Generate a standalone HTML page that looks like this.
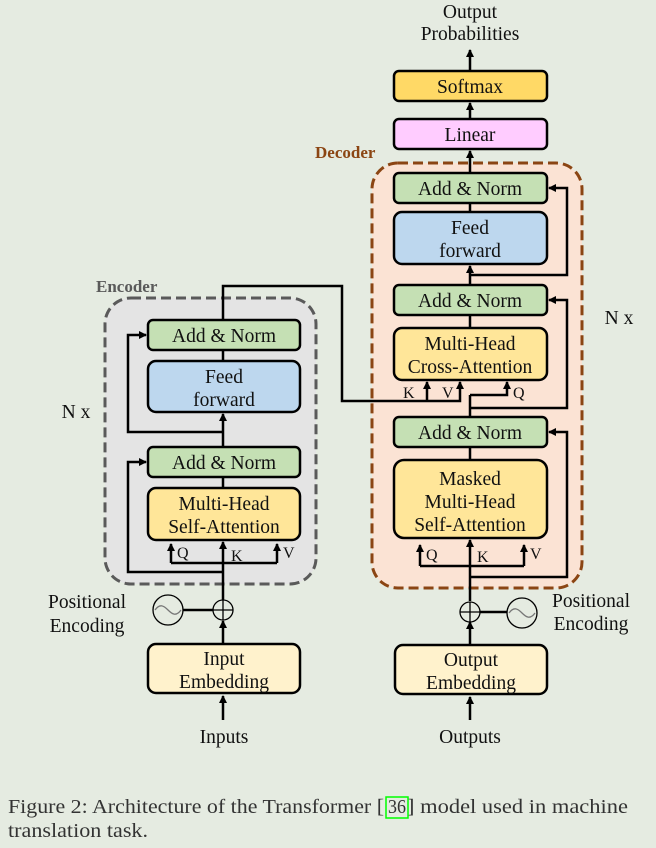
<!DOCTYPE html>
<html><head><style>
html,body{margin:0;padding:0;background:#e5ebe1;}
svg{display:block;font-family:"Liberation Serif",serif;}
</style></head><body>
<svg width="656" height="848" viewBox="0 0 656 848" xmlns="http://www.w3.org/2000/svg">
<defs>
<marker id="a" markerWidth="8" markerHeight="8" refX="7" refY="4" orient="auto" markerUnits="userSpaceOnUse">
<path d="M0,0 L8,4 L0,8 z" fill="#000"/></marker>
</defs>
<rect width="656" height="848" fill="#e5ebe1"/>
<rect x="105" y="298" width="211" height="286" rx="26" fill="#e4e4e4" stroke="#5a5a5a" stroke-width="3" stroke-dasharray="10,5"/>
<text x="96" y="292" font-size="17" font-weight="bold" fill="#5a5a5a">Encoder</text>
<rect x="372" y="163" width="210" height="425" rx="26" fill="#fbe3d4" stroke="#8b4513" stroke-width="3" stroke-dasharray="10,5"/>
<text x="315" y="158" font-size="17" font-weight="bold" fill="#8b4513">Decoder</text>

<g stroke="#000" stroke-width="2.5" fill="none">
<line x1="223" y1="720" x2="223" y2="696" marker-end="url(#a)"/>
<line x1="223" y1="643" x2="223" y2="621" marker-end="url(#a)"/>
<line x1="223" y1="600" x2="223" y2="542" marker-end="url(#a)"/>
<polyline points="171,563 277,563"/>
<line x1="171" y1="563" x2="171" y2="544" marker-end="url(#a)"/>
<line x1="277" y1="563" x2="277" y2="544" marker-end="url(#a)"/>
<polyline points="223,572 128,572 128,462 146,462" marker-end="url(#a)"/>
<line x1="223" y1="477" x2="223" y2="488"/>
<line x1="223" y1="447" x2="223" y2="414" marker-end="url(#a)"/>
<polyline points="223,432 128,432 128,335 146,335" marker-end="url(#a)"/>
<line x1="223" y1="350" x2="223" y2="361"/>
<polyline points="223,320 223,286 342,286 342,401 460,401 460,382" marker-end="url(#a)"/>
<line x1="427" y1="401" x2="427" y2="382" marker-end="url(#a)"/>
<line x1="470" y1="720" x2="470" y2="697" marker-end="url(#a)"/>
<line x1="470" y1="644" x2="470" y2="622" marker-end="url(#a)"/>
<line x1="470" y1="601" x2="470" y2="540" marker-end="url(#a)"/>
<polyline points="420,566 524,566"/>
<line x1="420" y1="566" x2="420" y2="545" marker-end="url(#a)"/>
<line x1="524" y1="566" x2="524" y2="545" marker-end="url(#a)"/>
<polyline points="470,577 567,577 567,432 549,432" marker-end="url(#a)"/>
<line x1="470" y1="447" x2="470" y2="460"/>
<line x1="470" y1="417" x2="470" y2="395"/>
<polyline points="470,395 507,395 507,382" marker-end="url(#a)"/>
<polyline points="470,408 567,408 567,300 549,300" marker-end="url(#a)"/>
<line x1="470" y1="315" x2="470" y2="328"/>
<line x1="470" y1="285" x2="470" y2="266" marker-end="url(#a)"/>
<polyline points="470,275 567,275 567,188 549,188" marker-end="url(#a)"/>
<line x1="470" y1="203" x2="470" y2="212"/>
<line x1="470" y1="173" x2="470" y2="151" marker-end="url(#a)"/>
<line x1="470" y1="119" x2="470" y2="103" marker-end="url(#a)"/>
<line x1="470" y1="71" x2="470" y2="50" marker-end="url(#a)"/>
<line x1="183" y1="610" x2="213" y2="610"/>
<line x1="480" y1="612" x2="507" y2="612"/>
</g>

<g stroke="#000" stroke-width="2.5">
<rect x="148" y="320" width="152" height="30" rx="5" fill="#c5e0b4"/>
<rect x="148" y="361" width="152" height="51" rx="8" fill="#bdd7ee"/>
<rect x="148" y="447" width="152" height="30" rx="5" fill="#c5e0b4"/>
<rect x="148" y="488" width="152" height="52" rx="8" fill="#ffe699"/>
<rect x="148" y="644" width="152" height="49" rx="8" fill="#fff2cc"/>
<rect x="394" y="71" width="153" height="30" rx="5" fill="#ffd966"/>
<rect x="394" y="119" width="153" height="30" rx="5" fill="#ffccff"/>
<rect x="394" y="173" width="153" height="30" rx="5" fill="#c5e0b4"/>
<rect x="394" y="212" width="153" height="52" rx="8" fill="#bdd7ee"/>
<rect x="394" y="285" width="153" height="30" rx="5" fill="#c5e0b4"/>
<rect x="394" y="328" width="153" height="52" rx="8" fill="#ffe699"/>
<rect x="394" y="417" width="153" height="30" rx="5" fill="#c5e0b4"/>
<rect x="394" y="460" width="153" height="78" rx="10" fill="#ffe699"/>
<rect x="395" y="645" width="152" height="49" rx="8" fill="#fff2cc"/>
</g>
<g stroke="#000" stroke-width="1.3" fill="none">
<circle cx="223" cy="610" r="10"/><line x1="213" y1="610" x2="233" y2="610"/><line x1="223" y1="600" x2="223" y2="620"/>
<circle cx="168" cy="610" r="15"/><path d="M155,610 C160,603 164,606 168,610 C172,614 176,617 181,610" stroke="#777"/>
<circle cx="470" cy="612" r="10"/><line x1="460" y1="612" x2="480" y2="612"/><line x1="470" y1="602" x2="470" y2="622"/>
<circle cx="522" cy="613" r="15"/><path d="M509,613 C514,606 518,609 522,613 C526,617 530,620 535,613" stroke="#777"/>
</g>

<g font-size="19.5" fill="#111" text-anchor="middle">
<text x="224" y="342">Add &amp; Norm</text>
<text x="224" y="383">Feed</text><text x="224" y="406">forward</text>
<text x="224" y="469">Add &amp; Norm</text>
<text x="224" y="510">Multi-Head</text><text x="224" y="533">Self-Attention</text>
<text x="224" y="665">Input</text><text x="224" y="688">Embedding</text>
<text x="224" y="743">Inputs</text>
<text x="470" y="18">Output</text><text x="470" y="40">Probabilities</text>
<text x="470" y="93">Softmax</text>
<text x="470" y="141">Linear</text>
<text x="470" y="195">Add &amp; Norm</text>
<text x="470" y="234">Feed</text><text x="470" y="257">forward</text>
<text x="470" y="307">Add &amp; Norm</text>
<text x="470" y="350">Multi-Head</text><text x="470" y="373">Cross-Attention</text>
<text x="470" y="439">Add &amp; Norm</text>
<text x="470" y="485">Masked</text><text x="470" y="508">Multi-Head</text><text x="470" y="531">Self-Attention</text>
<text x="471" y="666">Output</text><text x="471" y="689">Embedding</text>
<text x="470" y="743">Outputs</text>
<text x="87" y="608">Positional</text><text x="87" y="632">Encoding</text>
<text x="591" y="607">Positional</text><text x="591" y="630">Encoding</text>
<text x="76" y="418">N x</text>
<text x="619" y="324">N x</text>
</g>
<g font-size="16" fill="#111">
<text x="177" y="558">Q</text><text x="231" y="561">K</text><text x="283" y="558">V</text>
<text x="403" y="398">K</text><text x="442" y="398">V</text><text x="513" y="398">Q</text>
<text x="426" y="560">Q</text><text x="477" y="562">K</text><text x="530" y="559">V</text>
</g>
<g font-size="20" fill="#333">
<text x="8" y="813" textLength="376" lengthAdjust="spacingAndGlyphs">Figure 2: Architecture of the Transformer [</text>
<text x="388" y="813" textLength="18" lengthAdjust="spacingAndGlyphs">36</text>
<text x="407" y="813" textLength="221" lengthAdjust="spacingAndGlyphs">] model used in machine</text>
<text x="8" y="837" textLength="140" lengthAdjust="spacingAndGlyphs">translation task.</text>
</g>
<rect x="386" y="797" width="22" height="21" fill="none" stroke="#00ff00" stroke-width="1.5"/>
</svg>
</body></html>
